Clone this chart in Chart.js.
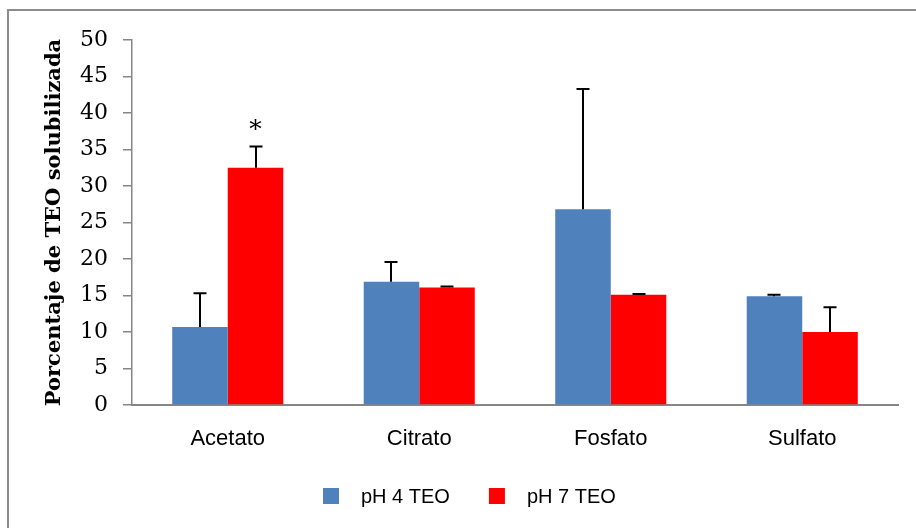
<!DOCTYPE html>
<html>
<head>
<meta charset="utf-8">
<script src="https://cdn.jsdelivr.net/npm/chart.js@4.4.1/dist/chart.umd.min.js"></script>
<style>
  html, body { margin: 0; padding: 0; background: #ffffff; }
  canvas { display: block; }
</style>
</head>
<body>
<canvas id="chart" width="916" height="528"></canvas>
<script>
// Salt categories
const categories = ['Acetato', 'Citrato', 'Fosfato', 'Sulfato'];

// Mean percentage of solubilized TEO and upper error (SD) per series
const ph4Values = [10.7, 16.9, 26.8, 14.9];
const ph4Errors = [4.6, 2.7, 16.5, 0.2];
const ph7Values = [32.5, 16.1, 15.1, 10.0];
const ph7Errors = [2.9, 0.15, 0.1, 3.4];

// Series names
const seriesNames = ['pH 4 TEO', 'pH 7 TEO'];

// Y axis range and tick step
const yMin = 0;
const yMax = 50;
const yStep = 5;

// Significance marks: [category index, dataset index, symbol]
const significance = [[0, 1, '*']];

const COLORS = ['#4F81BD', '#FF0000'];
const AXIS_GREY = '#868686';
const SERIF = '"DejaVu Serif", "Liberation Serif", serif';
const SANS = '"Liberation Sans", Arial, sans-serif';

const errorSets = [ph4Errors, ph7Errors];
const valueSets = [ph4Values, ph7Values];

// Upward-only error bars with a cap
const errorBars = {
  id: 'errorBars',
  afterDatasetsDraw(chart) {
    const ctx = chart.ctx;
    const y = chart.scales.y;
    ctx.save();
    ctx.strokeStyle = '#000000';
    ctx.lineWidth = 2;
    chart.data.datasets.forEach((ds, di) => {
      const meta = chart.getDatasetMeta(di);
      meta.data.forEach((bar, i) => {
        const top = y.getPixelForValue(valueSets[di][i] + errorSets[di][i]);
        const x = Math.round(bar.x);
        ctx.beginPath();
        ctx.moveTo(x, bar.y);
        ctx.lineTo(x, top);
        ctx.moveTo(x - 6.5, top);
        ctx.lineTo(x + 6.5, top);
        ctx.stroke();
      });
    });
    // significance symbols above the error bars
    ctx.fillStyle = '#000000';
    ctx.font = '25px ' + SERIF;
    ctx.textAlign = 'center';
    ctx.textBaseline = 'alphabetic';
    significance.forEach(([ci, di, sym]) => {
      const bar = chart.getDatasetMeta(di).data[ci];
      const top = y.getPixelForValue(valueSets[di][ci] + errorSets[di][ci]);
      ctx.fillText(sym, bar.x, top - 10);
    });
    ctx.restore();
  }
};

// Outer frame and legend row
const frameAndLegend = {
  id: 'frameAndLegend',
  afterDraw(chart) {
    const ctx = chart.ctx;
    ctx.save();
    const frameLeft = 8, frameTop = 10, frameRight = 930;
    ctx.strokeStyle = '#8C8C8C';
    ctx.lineWidth = 2;
    ctx.strokeRect(frameLeft, frameTop, frameRight - frameLeft, 1000);

    ctx.font = '20px ' + SANS;
    ctx.textBaseline = 'middle';
    ctx.textAlign = 'left';
    const box = 16, gapText = 22, gapItem = 39;
    const widths = seriesNames.map(n => ctx.measureText(n).width);
    let total = 0;
    widths.forEach((w, i) => { total += box + gapText + w + (i < widths.length - 1 ? gapItem : 0); });
    let x = Math.round((frameLeft + frameRight) / 2 - total / 2);
    const cy = 496;
    seriesNames.forEach((n, i) => {
      ctx.fillStyle = COLORS[i];
      ctx.fillRect(x, cy - box / 2, box, box);
      ctx.fillStyle = '#000000';
      ctx.fillText(n, x + box + gapText, cy + 1);
      x += box + gapText + widths[i] + gapItem;
    });
    ctx.restore();
  }
};

new Chart(document.getElementById('chart'), {
  type: 'bar',
  data: {
    labels: categories,
    datasets: [
      { label: seriesNames[0], data: ph4Values, backgroundColor: COLORS[0], borderWidth: 0 },
      { label: seriesNames[1], data: ph7Values, backgroundColor: COLORS[1], borderWidth: 0 }
    ]
  },
  options: {
    responsive: false,
    devicePixelRatio: 1,
    animation: false,
    layout: { padding: { left: 0, top: 40, right: 18, bottom: 60 } },
    datasets: { bar: { categoryPercentage: 0.58, barPercentage: 1.0 } },
    plugins: {
      legend: { display: false },
      tooltip: { enabled: false }
    },
    scales: {
      x: {
        grid: { display: false },
        border: { display: true, color: AXIS_GREY, width: 2 },
        ticks: { color: '#000000', font: { family: SANS, size: 22 }, padding: 13 },
        afterFit(scale) { scale.height = 63; }
      },
      y: {
        min: yMin,
        max: yMax,
        ticks: { stepSize: yStep, color: '#000000', font: { family: SERIF, size: 22 }, padding: 15 },
        grid: { display: true, drawOnChartArea: false, drawTicks: true, tickLength: 9, color: AXIS_GREY, lineWidth: 1.5 },
        border: { display: true, color: AXIS_GREY, width: 1.5 },
        title: {
          display: true,
          text: 'Porcentaje de TEO solubilizada',
          color: '#000000',
          font: { family: SERIF, size: 21, weight: 'bold' },
          padding: { top: 42, bottom: 0 }
        },
        afterFit(scale) { scale.width = 132; }
      }
    }
  },
  plugins: [errorBars, frameAndLegend]
});
</script>
</body>
</html>
